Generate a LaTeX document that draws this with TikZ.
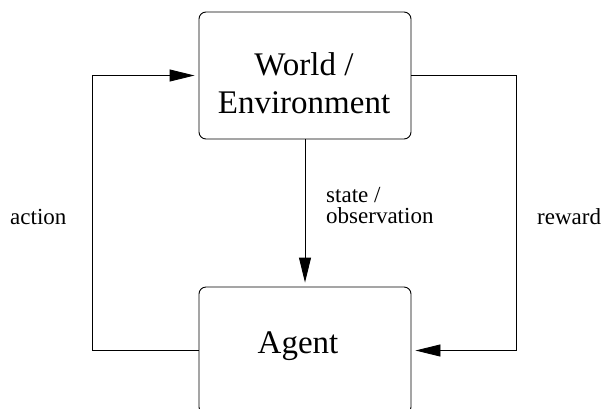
\documentclass[tikz,border=0pt]{standalone}
\usepackage{fontspec}
\setmainfont{Liberation Serif}
\usetikzlibrary{arrows.meta}

\begin{document}
\begin{tikzpicture}[x=1pt,y=-1pt,
	box/.style={draw,rounded corners=7pt,line width=0.9pt,minimum width=212pt,minimum height=127pt,inner sep=0pt},
	flow/.style={line width=0.9pt,-{Triangle[length=25pt,width=12pt]},shorten >=4pt},
	boxtxt/.style={inner sep=0pt,align=center,font=\fontsize{33}{38}\selectfont},
	lbl/.style={inner sep=0pt,align=left,font=\fontsize{23}{21}\selectfont}]
	\clip (0,0) rectangle (602,408);
	%boxes
	\node[box] (world) at (305,75.5) {};
	\node[box] (agent) at (305,350.5) {};
	\node[boxtxt] (worldtxt) at (304,83) {World /\\Environment};
	\node[boxtxt] (agenttxt) at (298,346) {Agent};
	
	%arrows
	\draw[flow] (world.south) -- (agent.north);
	\draw[flow] (agent.west) -- ++(-106,0) |- (world.west);
	\draw[flow] (world.east) -- ++(105,0) |- (agent.east);
	
	%labels
	\node[lbl,anchor=base west] (action) at (10,224) {action};
	\node[lbl,anchor=base west] (reward) at (537,224) {reward};
	\node[lbl,anchor=north west] (state) at (326,187.5) {state /\\observation};
\end{tikzpicture}
\end{document}
